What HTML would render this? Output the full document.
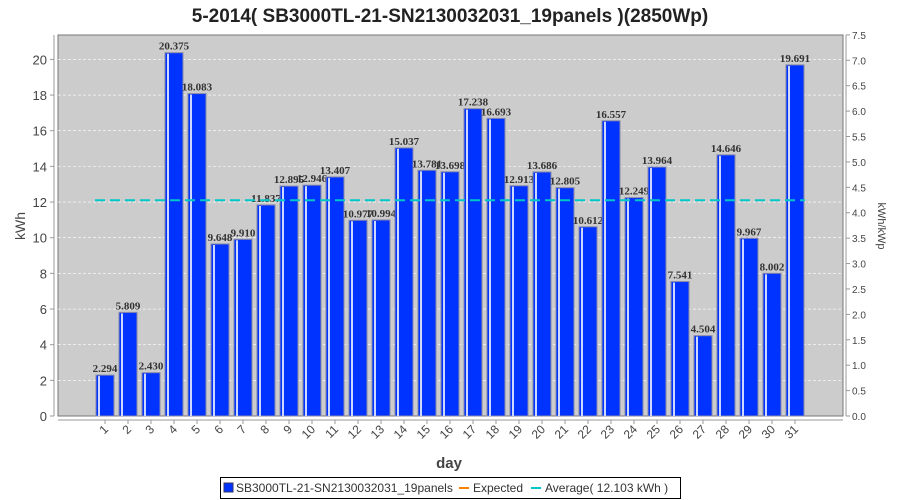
<!DOCTYPE html>
<html><head><meta charset="utf-8"><style>
html,body{margin:0;padding:0;background:#fff;width:900px;height:500px;overflow:hidden}
svg{display:block;font-family:"Liberation Sans",sans-serif}
</style></head><body>
<svg id="s" width="900" height="500" xmlns="http://www.w3.org/2000/svg">
<text x="450" y="22" text-anchor="middle" font-size="19" font-weight="bold" fill="#222">5-2014( SB3000TL-21-SN2130032031_19panels )(2850Wp)</text>
<rect x="58" y="35" width="785" height="381" fill="#cccccc" stroke="#777" stroke-width="1"/>
<g id="g"></g>
<text x="449" y="468" text-anchor="middle" font-size="15" font-weight="bold" fill="#444">day</text>
<text transform="translate(25,226) rotate(-90)" text-anchor="middle" font-size="14" fill="#444">kWh</text>
<text transform="translate(878,226) rotate(90)" text-anchor="middle" font-size="11" fill="#444">kWh/kWp</text>
<rect x="220.5" y="477.5" width="460" height="21" fill="#fff" stroke="#000"/>
<rect x="224" y="483" width="9" height="9" fill="#0033ff" stroke="#336"/>
<text x="236" y="492" font-size="12" fill="#333">SB3000TL-21-SN2130032031_19panels</text>
<line x1="459" y1="488" x2="469" y2="488" stroke="#ff8000" stroke-width="2"/>
<text x="473" y="492" font-size="12" fill="#333">Expected</text>
<line x1="531" y1="488" x2="541" y2="488" stroke="#00c8c8" stroke-width="2"/>
<text x="545" y="492" font-size="12" fill="#333">Average( 12.103 kWh )</text>
</svg>
<script>
var v=[2.294,5.809,2.430,20.375,18.083,9.648,9.910,11.837,12.895,12.946,13.407,10.977,10.994,15.037,13.781,13.698,17.238,16.693,12.913,13.686,12.805,10.612,16.557,12.249,13.964,7.541,4.504,14.646,9.967,8.002,19.691];
var s='',k=17.83,b=416;
for(var i=0;i<=10;i++){var y=b-i*2*k;if(i>0)s+='<line x1="58" x2="843" y1="'+y+'" y2="'+y+'" stroke="#fff" stroke-dasharray="3,2" stroke-width="0.6"/>';
s+='<line x1="50" x2="54" y1="'+y+'" y2="'+y+'" stroke="#999"/><text x="47" y="'+(y+5)+'" text-anchor="end" font-size="13" fill="#444">'+(i*2)+'</text>';}
for(var j=0;j<=15;j++){var y=b-j*0.5*2.85*k;s+='<line x1="846" x2="850" y1="'+y+'" y2="'+y+'" stroke="#999"/><text x="852" y="'+(y+4)+'" font-size="10" fill="#444">'+(j*0.5).toFixed(1)+'</text>';}
s+='<line x1="54" x2="54" y1="35" y2="416" stroke="#999"/><line x1="846" x2="846" y1="35" y2="416" stroke="#999"/><line x1="58" x2="843" y1="420" y2="420" stroke="#999"/>';
for(var i=0;i<31;i++){var c=105+i*23,h=v[i]*k,t=b-h;
s+='<rect x="'+(c-9)+'" y="'+t+'" width="18" height="'+h+'" fill="#0033ff" stroke="#8888aa" stroke-width="1"/>';
s+='<rect x="'+(c-7)+'" y="'+(t+1)+'" width="2" height="'+(h-1)+'" fill="#ccd8ff"/>';
s+='<text x="'+c+'" y="'+(t-3)+'" text-anchor="middle" font-family="Liberation Serif,serif" font-weight="bold" font-size="11" fill="#333">'+v[i].toFixed(3)+'</text>';
s+='<line x1="'+c+'" x2="'+c+'" y1="420" y2="424" stroke="#999"/>';
s+='<text transform="translate('+(c+4)+',430) rotate(-45)" text-anchor="end" font-size="12" fill="#444">'+(i+1)+'</text>';}
var ay=b-12.103*k;
s+='<line x1="95" x2="805" y1="'+ay+'" y2="'+ay+'" stroke="#00c8c8" stroke-width="2" stroke-dasharray="10,5"/>';
document.getElementById('g').innerHTML=s;
</script>
</body></html>
